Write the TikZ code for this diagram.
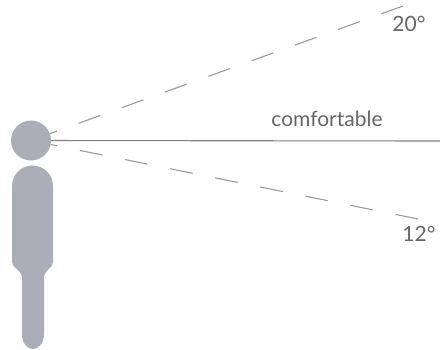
\documentclass[tikz,border=0pt]{standalone}
\usepackage{fontspec}
\setmainfont{Lato}
\definecolor{figgray}{HTML}{A9AEB8}
\begin{document}
\begin{tikzpicture}[x=1pt, y=-1pt,
  fig/.style={fill=figgray, draw=none},
  sight/.style={draw=black!40, line width=1.1pt, dash pattern=on 23pt off 23pt},
  flat/.style={draw=black!50, line width=1.1pt},
  lbl/.style={text=black!60, font=\fontsize{21}{24}\selectfont, inner sep=0pt}]
\useasboundingbox (0,0) rectangle (440,349);
\node[circle, fig, minimum size=40pt, inner sep=0pt] (head) at (31,140.5) {};
\fill[figgray] (12,186) arc[start angle=180, end angle=360, radius=20.5] -- (53,262)
  .. controls (53,268) and (44,270) .. (44,278) -- (44,334)
  .. controls (44,344) and (38,349) .. (33,349)
  .. controls (28,349) and (22,344) .. (22,334) -- (22,278)
  .. controls (22,270) and (12,268) .. (12,262) -- cycle;
\coordinate (upend) at (403,6);
\coordinate (lowend) at (418,219);
\coordinate (flatend) at (440,141);
\draw[sight] (upend) -- (head);
\draw[sight] (lowend) -- (head);
\draw[flat] (head) -- (flatend);
\node[lbl] (up) at (409,24) {20°};
\node[lbl] (comfort) at (327,119) {comfortable};
\node[lbl] (low) at (419,234) {12°};
\end{tikzpicture}
\end{document}
